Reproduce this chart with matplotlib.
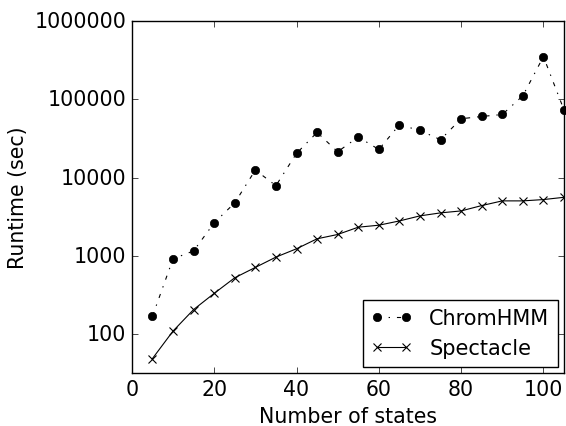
import matplotlib
matplotlib.use('Agg')
import matplotlib.pyplot as plt
import matplotlib.ticker as mticker

# number of states and runtimes
states = [5, 10, 15, 20, 25, 30, 35, 40, 45, 50, 55, 60, 65, 70, 75, 80, 85, 90, 95, 100, 105]
chromhmm = [170, 920, 1160, 2650, 4770, 12500, 7900, 20400, 37800, 21400, 33000,
            22900, 47300, 40000, 30500, 56500, 60400, 64000, 111000, 351000, 73000]
spectacle = [49, 110, 207, 333, 527, 714, 967, 1235, 1657, 1880, 2330,
             2470, 2800, 3250, 3550, 3760, 4400, 5050, 5050, 5250, 5610]
yticks = [100, 1000, 10000, 100000, 1000000]

plt.style.use('classic')
plt.rcParams['font.size'] = 14.8

fig = plt.figure(figsize=(5.66, 4.27), dpi=100, facecolor='white')
ax = fig.add_axes([0.233, 0.124, 0.7635, 0.8245])

ax.plot(states, chromhmm, 'k-.', marker='o', markersize=6, linewidth=0.8,
        label='ChromHMM', clip_on=False)
ax.plot(states, spectacle, 'k-', marker='x', markersize=6, linewidth=0.8,
        markeredgewidth=0.8, label='Spectacle')

ax.set_yscale('log')
ax.set_ylim(32, 1000000)
ax.set_xlim(0, 105)
ax.set_yticks(yticks)
ax.yaxis.set_major_formatter(mticker.FuncFormatter(lambda v, p: '%d' % v))
ax.yaxis.set_minor_locator(mticker.NullLocator())
ax.set_xticks([0, 20, 40, 60, 80, 100])

ax.set_xlabel('Number of states')
ax.set_ylabel('Runtime (sec)')
ax.legend(loc='lower right', fontsize=15, numpoints=2, borderaxespad=0.3)

fig.savefig('out.png', dpi=100, facecolor='white')
